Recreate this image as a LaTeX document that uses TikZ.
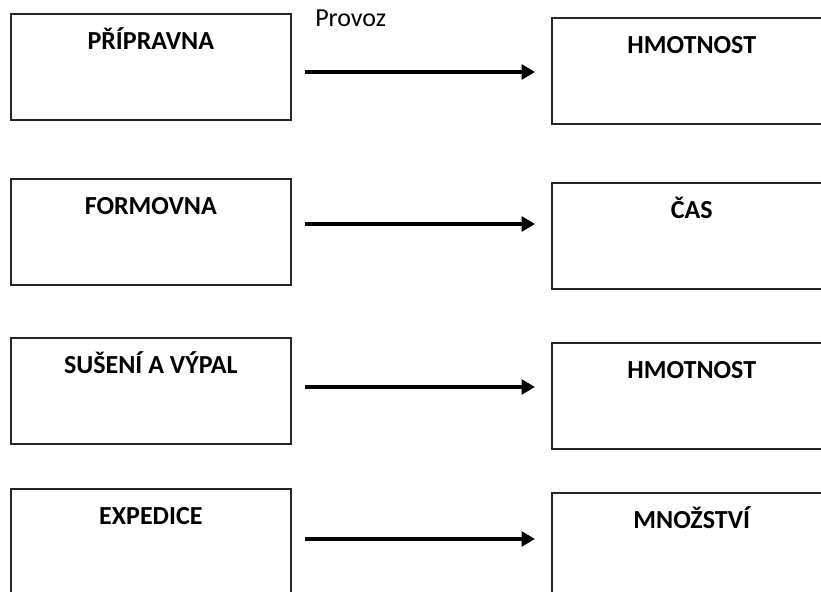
\documentclass[tikz,border=0pt]{standalone}
\usepackage{fontspec}
\setmainfont{Carlito}
\usepackage{tikz}
\usetikzlibrary{arrows.meta,positioning}

\begin{document}
\begin{tikzpicture}[x=0.75pt,y=-0.75pt,
    box/.style={draw=black!85,line width=1.2pt,rectangle,anchor=north west,minimum width=210pt,inner xsep=0pt,inner ysep=0pt,text height=27pt,text depth=52.5pt,font=\fontsize{19.5}{23}\selectfont\bfseries},
    flow/.style={line width=2.4pt,-{Triangle[length=10pt,width=11pt]}}]
    \useasboundingbox (0,0) rectangle (821,592);
    \node[anchor=base west,inner sep=0pt,font=\fontsize{19.5}{23}\selectfont] (provoz) at (315,27) {Provoz};
    \foreach \i/\lt/\rt/\ay/\ltxt/\rtxt in {1/13/17/72/PŘÍPRAVNA/HMOTNOST,2/178/182/224/FORMOVNA/ČAS,3/337/342/387/SUŠENÍ A VÝPAL/HMOTNOST,4/488/492/539/EXPEDICE/MNOŽSTVÍ}
    {
      \node[box] (L\i) at (10,\lt) {\ltxt};
      \node[box] (R\i) at (551,\rt) {\rtxt};
      \coordinate (s\i) at (305,\ay);
      \draw[flow,shorten >=12pt] (s\i) -- (s\i -| R\i.west);
    }
\end{tikzpicture}
\end{document}
